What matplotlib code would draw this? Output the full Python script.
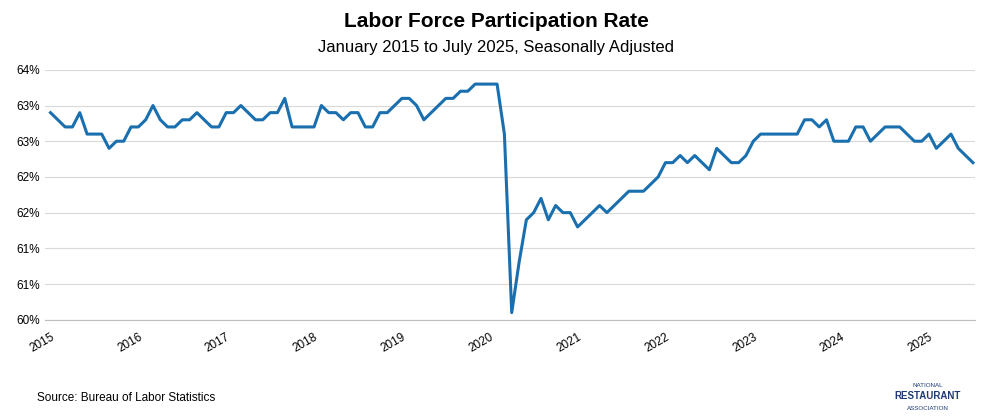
import matplotlib
matplotlib.use("Agg")
import matplotlib.pyplot as plt
import numpy as np

plt.rcParams["font.family"] = "Liberation Sans"

# monthly LFPR, Jan 2015 - Jul 2025
rate = [
    62.9, 62.8, 62.7, 62.7, 62.9, 62.6, 62.6, 62.6, 62.4, 62.5, 62.5, 62.7,
    62.7, 62.8, 63.0, 62.8, 62.7, 62.7, 62.8, 62.8, 62.9, 62.8, 62.7, 62.7,
    62.9, 62.9, 63.0, 62.9, 62.8, 62.8, 62.9, 62.9, 63.1, 62.7, 62.7, 62.7,
    62.7, 63.0, 62.9, 62.9, 62.8, 62.9, 62.9, 62.7, 62.7, 62.9, 62.9, 63.0,
    63.1, 63.1, 63.0, 62.8, 62.9, 63.0, 63.1, 63.1, 63.2, 63.2, 63.3, 63.3,
    63.3, 63.3, 62.6, 60.1, 60.8, 61.4, 61.5, 61.7, 61.4, 61.6, 61.5, 61.5,
    61.3, 61.4, 61.5, 61.6, 61.5, 61.6, 61.7, 61.8, 61.8, 61.8, 61.9, 62.0,
    62.2, 62.2, 62.3, 62.2, 62.3, 62.2, 62.1, 62.4, 62.3, 62.2, 62.2, 62.3,
    62.5, 62.6, 62.6, 62.6, 62.6, 62.6, 62.6, 62.8, 62.8, 62.7, 62.8, 62.5,
    62.5, 62.5, 62.7, 62.7, 62.5, 62.6, 62.7, 62.7, 62.7, 62.6, 62.5, 62.5,
    62.6, 62.4, 62.5, 62.6, 62.4, 62.3, 62.2,
]
years = list(range(2015, 2026))
yticks = [60.0, 60.5, 61.0, 61.5, 62.0, 62.5, 63.0, 63.5]

x = np.arange(len(rate))

fig = plt.figure(figsize=(9.92, 4.18), dpi=100)
ax = fig.add_axes([0.045, 0.235, 0.938, 0.598])
ax.plot(x, rate, color="#1a6faf", lw=2.2)
ax.set_xlim(-0.8, len(rate) - 0.7)
ax.set_ylim(60, 63.5)
ax.set_yticks(yticks)
ax.set_yticklabels([f"{int(np.floor(v + 0.5))}%" for v in yticks], fontsize=8.5)
ax.set_xticks([12 * i for i in range(len(years))])
ax.set_xticklabels([str(y) for y in years], fontsize=8.5, rotation=30, ha="right",
                   rotation_mode="anchor")
ax.grid(axis="y", color="#d9d9d9", lw=0.8)
ax.set_axisbelow(True)
for s in ["top", "right", "left"]:
    ax.spines[s].set_visible(False)
ax.spines["bottom"].set_color("#bfbfbf")
ax.tick_params(axis="both", length=0)
ax.tick_params(axis="x", pad=8)

fig.text(0.5, 0.935, "Labor Force Participation Rate", ha="center", fontsize=15, weight="bold")
fig.text(0.5, 0.875, "January 2015 to July 2025, Seasonally Adjusted", ha="center", fontsize=12)
fig.text(0.037, 0.04, "Source: Bureau of Labor Statistics", fontsize=8.5)
fig.text(0.935, 0.075, "NATIONAL", ha="center", fontsize=4.5, color="#1f3b73")
fig.text(0.935, 0.045, "RESTAURANT", ha="center", fontsize=7, weight="bold", color="#1f3b73")
fig.text(0.935, 0.02, "ASSOCIATION", ha="center", fontsize=4.5, color="#1f3b73")

fig.savefig("out.png", dpi=100)
